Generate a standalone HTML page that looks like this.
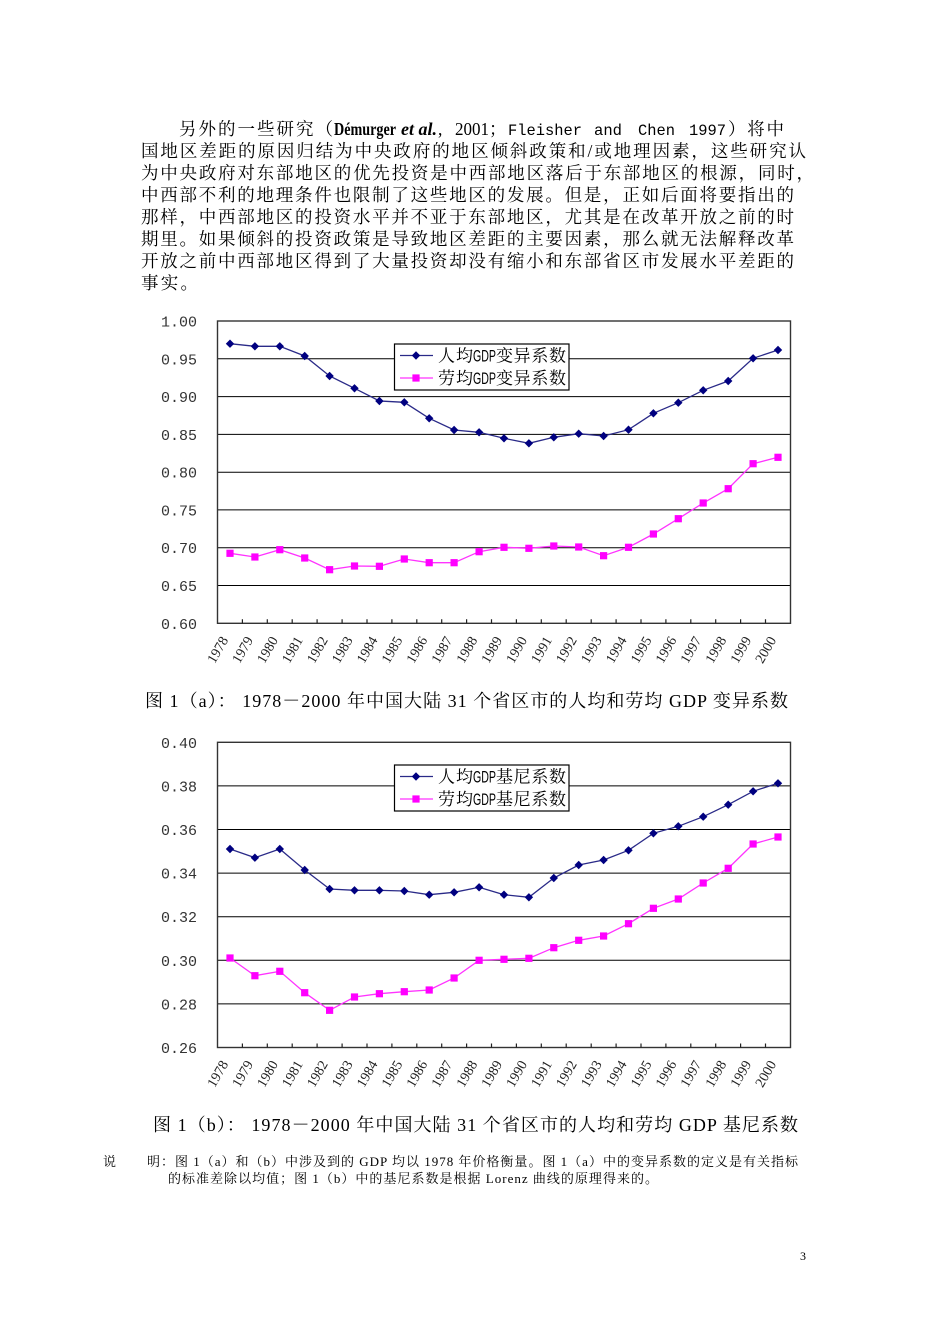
<!DOCTYPE html>
<html><head><meta charset="utf-8"><style>
html,body{margin:0;padding:0;background:#fff;}
svg{display:block;}
.cj{font-family:"Liberation Serif","Noto Serif CJK SC",serif;}
.mo{font-family:"Liberation Mono",monospace;}
.yl{font-family:"Liberation Mono",monospace;font-size:15px;fill:#333;}
.yr{font-family:"Liberation Serif",serif;font-size:14px;fill:#222;}
</style></head><body>
<svg width="950" height="1344" viewBox="0 0 950 1344" xmlns="http://www.w3.org/2000/svg">
<defs>
<path id="dm" d="M0,-4.2L4.2,0L0,4.2L-4.2,0Z" fill="#000080"/>
<rect id="sq" x="-3.6" y="-3.6" width="7.2" height="7.2" fill="#FF00FF"/>
</defs>
<rect width="950" height="1344" fill="#fff"/>

<!-- Paragraph -->
<g class="cj" font-size="17.5" fill="#000">
<text x="179" y="135" textLength="154" lengthAdjust="spacing">另外的一些研究（</text>
<text x="334" y="135" font-family="Liberation Serif" font-weight="bold" textLength="62" lengthAdjust="spacingAndGlyphs">Démurger</text>
<text x="401" y="135" font-family="Liberation Serif" font-weight="bold" font-style="italic" textLength="36" lengthAdjust="spacingAndGlyphs">et al.</text>
<text x="438" y="135" font-family="Liberation Serif">,</text>
<text x="455" y="135" font-family="Liberation Serif" textLength="34" lengthAdjust="spacingAndGlyphs">2001</text>
<text x="489" y="135">；</text>
<text x="508" y="135" class="mo" font-size="16" textLength="74" lengthAdjust="spacingAndGlyphs">Fleisher</text>
<text x="594" y="135" class="mo" font-size="16" textLength="28" lengthAdjust="spacingAndGlyphs">and</text>
<text x="638" y="135" class="mo" font-size="16" textLength="37" lengthAdjust="spacingAndGlyphs">Chen</text>
<text x="689" y="135" class="mo" font-size="16" textLength="37" lengthAdjust="spacingAndGlyphs">1997</text>
<text x="728" y="135" textLength="56" lengthAdjust="spacing">）将中</text>
<text x="141" y="157" textLength="665" lengthAdjust="spacing">国地区差距的原因归结为中央政府的地区倾斜政策和/或地理因素，这些研究认</text>
<text x="141" y="179" textLength="673" lengthAdjust="spacing">为中央政府对东部地区的优先投资是中西部地区落后于东部地区的根源，同时，</text>
<text x="141" y="201" textLength="653" lengthAdjust="spacing">中西部不利的地理条件也限制了这些地区的发展。但是，正如后面将要指出的</text>
<text x="141" y="223" textLength="653" lengthAdjust="spacing">那样，中西部地区的投资水平并不亚于东部地区，尤其是在改革开放之前的时</text>
<text x="141" y="245" textLength="653" lengthAdjust="spacing">期里。如果倾斜的投资政策是导致地区差距的主要因素，那么就无法解释改革</text>
<text x="141" y="267" textLength="653" lengthAdjust="spacing">开放之前中西部地区得到了大量投资却没有缩小和东部省区市发展水平差距的</text>
<text x="141" y="289" textLength="57" lengthAdjust="spacing">事实。</text>
</g>

<!-- ===== Chart 1 ===== -->
<g stroke="#000" stroke-width="1">
<line x1="217.5" y1="358.8" x2="790.5" y2="358.8"/>
<line x1="217.5" y1="396.6" x2="790.5" y2="396.6"/>
<line x1="217.5" y1="434.4" x2="790.5" y2="434.4"/>
<line x1="217.5" y1="472.2" x2="790.5" y2="472.2"/>
<line x1="217.5" y1="509.9" x2="790.5" y2="509.9"/>
<line x1="217.5" y1="547.7" x2="790.5" y2="547.7"/>
<line x1="217.5" y1="585.5" x2="790.5" y2="585.5"/>
</g>
<rect x="217.5" y="321" width="573" height="302.3" fill="none" stroke="#333" stroke-width="1.4"/>
<path d="M242.4 623.3v-4M267.3 623.3v-4M292.2 623.3v-4M317.1 623.3v-4M342.1 623.3v-4M367 623.3v-4M391.9 623.3v-4M416.8 623.3v-4M441.7 623.3v-4M466.6 623.3v-4M491.5 623.3v-4M516.4 623.3v-4M541.3 623.3v-4M566.2 623.3v-4M591.2 623.3v-4M616.1 623.3v-4M641 623.3v-4M665.9 623.3v-4M690.8 623.3v-4M715.7 623.3v-4M740.6 623.3v-4M765.5 623.3v-4" stroke="#222" stroke-width="1.2"/>
<g class="yl" text-anchor="end">
<text x="197" y="326.5">1.00</text>
<text x="197" y="364.3">0.95</text>
<text x="197" y="402.1">0.90</text>
<text x="197" y="439.9">0.85</text>
<text x="197" y="477.7">0.80</text>
<text x="197" y="515.4">0.75</text>
<text x="197" y="553.2">0.70</text>
<text x="197" y="591">0.65</text>
<text x="197" y="628.8">0.60</text>
</g>
<g class="yr" text-anchor="end">
<text transform="translate(228.6,640) rotate(-60)">1978</text>
<text transform="translate(253.5,640) rotate(-60)">1979</text>
<text transform="translate(278.4,640) rotate(-60)">1980</text>
<text transform="translate(303.3,640) rotate(-60)">1981</text>
<text transform="translate(328.2,640) rotate(-60)">1982</text>
<text transform="translate(353.1,640) rotate(-60)">1983</text>
<text transform="translate(378,640) rotate(-60)">1984</text>
<text transform="translate(402.9,640) rotate(-60)">1985</text>
<text transform="translate(427.8,640) rotate(-60)">1986</text>
<text transform="translate(452.7,640) rotate(-60)">1987</text>
<text transform="translate(477.7,640) rotate(-60)">1988</text>
<text transform="translate(502.6,640) rotate(-60)">1989</text>
<text transform="translate(527.5,640) rotate(-60)">1990</text>
<text transform="translate(552.4,640) rotate(-60)">1991</text>
<text transform="translate(577.3,640) rotate(-60)">1992</text>
<text transform="translate(602.2,640) rotate(-60)">1993</text>
<text transform="translate(627.1,640) rotate(-60)">1994</text>
<text transform="translate(652,640) rotate(-60)">1995</text>
<text transform="translate(676.9,640) rotate(-60)">1996</text>
<text transform="translate(701.8,640) rotate(-60)">1997</text>
<text transform="translate(726.8,640) rotate(-60)">1998</text>
<text transform="translate(751.7,640) rotate(-60)">1999</text>
<text transform="translate(776.6,640) rotate(-60)">2000</text>
</g>
<polyline fill="none" stroke="#2a2a88" stroke-width="1.3" points="230,343.7 254.9,346.3 279.8,346.3 304.7,356 329.6,376 354.5,388.3 379.4,401 404.3,402.3 429.2,418.3 454.1,430 479.1,432.3 504,438.3 528.9,443.3 553.8,437.3 578.7,433.7 603.6,436 628.5,429.7 653.4,413.3 678.3,402.7 703.2,390.3 728.2,381 753.1,358.3 778,350"/>
<polyline fill="none" stroke="#FF33FF" stroke-width="1.3" points="230,553.3 254.9,557 279.8,549.7 304.7,558 329.6,569.7 354.5,566 379.4,566.3 404.3,559 429.2,562.7 454.1,562.7 479.1,551.7 504,547.3 528.9,548.3 553.8,546 578.7,547 603.6,555.7 628.5,547.3 653.4,534 678.3,518.7 703.2,503 728.2,488.7 753.1,463.7 778,457.3"/>
<use href="#dm" x="230" y="343.7"/><use href="#dm" x="254.9" y="346.3"/><use href="#dm" x="279.8" y="346.3"/><use href="#dm" x="304.7" y="356"/><use href="#dm" x="329.6" y="376"/><use href="#dm" x="354.5" y="388.3"/><use href="#dm" x="379.4" y="401"/><use href="#dm" x="404.3" y="402.3"/><use href="#dm" x="429.2" y="418.3"/><use href="#dm" x="454.1" y="430"/><use href="#dm" x="479.1" y="432.3"/><use href="#dm" x="504" y="438.3"/><use href="#dm" x="528.9" y="443.3"/><use href="#dm" x="553.8" y="437.3"/><use href="#dm" x="578.7" y="433.7"/><use href="#dm" x="603.6" y="436"/><use href="#dm" x="628.5" y="429.7"/><use href="#dm" x="653.4" y="413.3"/><use href="#dm" x="678.3" y="402.7"/><use href="#dm" x="703.2" y="390.3"/><use href="#dm" x="728.2" y="381"/><use href="#dm" x="753.1" y="358.3"/><use href="#dm" x="778" y="350"/>
<use href="#sq" x="230" y="553.3"/><use href="#sq" x="254.9" y="557"/><use href="#sq" x="279.8" y="549.7"/><use href="#sq" x="304.7" y="558"/><use href="#sq" x="329.6" y="569.7"/><use href="#sq" x="354.5" y="566"/><use href="#sq" x="379.4" y="566.3"/><use href="#sq" x="404.3" y="559"/><use href="#sq" x="429.2" y="562.7"/><use href="#sq" x="454.1" y="562.7"/><use href="#sq" x="479.1" y="551.7"/><use href="#sq" x="504" y="547.3"/><use href="#sq" x="528.9" y="548.3"/><use href="#sq" x="553.8" y="546"/><use href="#sq" x="578.7" y="547"/><use href="#sq" x="603.6" y="555.7"/><use href="#sq" x="628.5" y="547.3"/><use href="#sq" x="653.4" y="534"/><use href="#sq" x="678.3" y="518.7"/><use href="#sq" x="703.2" y="503"/><use href="#sq" x="728.2" y="488.7"/><use href="#sq" x="753.1" y="463.7"/><use href="#sq" x="778" y="457.3"/>
<!-- legend 1 -->
<rect x="394.5" y="344" width="174.5" height="46" fill="#fff" stroke="#000" stroke-width="1.2"/>
<line x1="400" y1="355.5" x2="433" y2="355.5" stroke="#2a2a88" stroke-width="1.3"/>
<use href="#dm" x="416" y="355.5"/>
<line x1="400" y1="378" x2="433" y2="378" stroke="#FF33FF" stroke-width="1.3"/>
<use href="#sq" x="416" y="378"/>
<g class="cj" font-size="17" fill="#000">
<text x="438" y="361.5" textLength="35" lengthAdjust="spacing">人均</text>
<text x="473" y="361.5" font-family="Liberation Sans" font-size="17" textLength="23" lengthAdjust="spacingAndGlyphs">GDP</text>
<text x="496" y="361.5" textLength="70" lengthAdjust="spacing">变异系数</text>
<text x="438" y="384" textLength="35" lengthAdjust="spacing">劳均</text>
<text x="473" y="384" font-family="Liberation Sans" font-size="17" textLength="23" lengthAdjust="spacingAndGlyphs">GDP</text>
<text x="496" y="384" textLength="70" lengthAdjust="spacing">变异系数</text>
</g>

<!-- Caption 1 -->
<text class="cj" x="145" y="707" font-size="18" textLength="643" lengthAdjust="spacing">图 1（a）：  1978－2000 年中国大陆 31 个省区市的人均和劳均 GDP 变异系数</text>

<!-- ===== Chart 2 ===== -->
<g stroke="#000" stroke-width="1">
<line x1="217.5" y1="785.9" x2="790.5" y2="785.9"/>
<line x1="217.5" y1="829.5" x2="790.5" y2="829.5"/>
<line x1="217.5" y1="873.1" x2="790.5" y2="873.1"/>
<line x1="217.5" y1="916.7" x2="790.5" y2="916.7"/>
<line x1="217.5" y1="960.3" x2="790.5" y2="960.3"/>
<line x1="217.5" y1="1003.9" x2="790.5" y2="1003.9"/>
</g>
<rect x="217.5" y="742.3" width="573" height="305.2" fill="none" stroke="#333" stroke-width="1.4"/>
<path d="M242.4 1047.5v-4M267.3 1047.5v-4M292.2 1047.5v-4M317.1 1047.5v-4M342.1 1047.5v-4M367 1047.5v-4M391.9 1047.5v-4M416.8 1047.5v-4M441.7 1047.5v-4M466.6 1047.5v-4M491.5 1047.5v-4M516.4 1047.5v-4M541.3 1047.5v-4M566.2 1047.5v-4M591.2 1047.5v-4M616.1 1047.5v-4M641 1047.5v-4M665.9 1047.5v-4M690.8 1047.5v-4M715.7 1047.5v-4M740.6 1047.5v-4M765.5 1047.5v-4" stroke="#222" stroke-width="1.2"/>
<g class="yl" text-anchor="end">
<text x="197" y="747.8">0.40</text>
<text x="197" y="791.4">0.38</text>
<text x="197" y="835">0.36</text>
<text x="197" y="878.6">0.34</text>
<text x="197" y="922.2">0.32</text>
<text x="197" y="965.8">0.30</text>
<text x="197" y="1009.4">0.28</text>
<text x="197" y="1053">0.26</text>
</g>
<g class="yr" text-anchor="end">
<text transform="translate(228.6,1064) rotate(-60)">1978</text>
<text transform="translate(253.5,1064) rotate(-60)">1979</text>
<text transform="translate(278.4,1064) rotate(-60)">1980</text>
<text transform="translate(303.3,1064) rotate(-60)">1981</text>
<text transform="translate(328.2,1064) rotate(-60)">1982</text>
<text transform="translate(353.1,1064) rotate(-60)">1983</text>
<text transform="translate(378,1064) rotate(-60)">1984</text>
<text transform="translate(402.9,1064) rotate(-60)">1985</text>
<text transform="translate(427.8,1064) rotate(-60)">1986</text>
<text transform="translate(452.7,1064) rotate(-60)">1987</text>
<text transform="translate(477.7,1064) rotate(-60)">1988</text>
<text transform="translate(502.6,1064) rotate(-60)">1989</text>
<text transform="translate(527.5,1064) rotate(-60)">1990</text>
<text transform="translate(552.4,1064) rotate(-60)">1991</text>
<text transform="translate(577.3,1064) rotate(-60)">1992</text>
<text transform="translate(602.2,1064) rotate(-60)">1993</text>
<text transform="translate(627.1,1064) rotate(-60)">1994</text>
<text transform="translate(652,1064) rotate(-60)">1995</text>
<text transform="translate(676.9,1064) rotate(-60)">1996</text>
<text transform="translate(701.8,1064) rotate(-60)">1997</text>
<text transform="translate(726.8,1064) rotate(-60)">1998</text>
<text transform="translate(751.7,1064) rotate(-60)">1999</text>
<text transform="translate(776.6,1064) rotate(-60)">2000</text>
</g>
<polyline fill="none" stroke="#2a2a88" stroke-width="1.3" points="230,849 254.9,857.7 279.8,849 304.7,870 329.6,889 354.5,890.3 379.4,890.3 404.3,891 429.2,894.7 454.1,892.3 479.1,887.3 504,894.7 528.9,897.3 553.8,878 578.7,865 603.6,860 628.5,850.3 653.4,833.3 678.3,826.3 703.2,816.7 728.2,804.7 753.1,791.3 778,783.3"/>
<polyline fill="none" stroke="#FF33FF" stroke-width="1.3" points="230,958 254.9,975.7 279.8,971.3 304.7,992.7 329.6,1010.3 354.5,997 379.4,993.7 404.3,991.7 429.2,990 454.1,978 479.1,960.3 504,959.3 528.9,958.3 553.8,947.7 578.7,940.3 603.6,936 628.5,923.7 653.4,908.3 678.3,899 703.2,883 728.2,868.3 753.1,844 778,837"/>
<use href="#dm" x="230" y="849"/><use href="#dm" x="254.9" y="857.7"/><use href="#dm" x="279.8" y="849"/><use href="#dm" x="304.7" y="870"/><use href="#dm" x="329.6" y="889"/><use href="#dm" x="354.5" y="890.3"/><use href="#dm" x="379.4" y="890.3"/><use href="#dm" x="404.3" y="891"/><use href="#dm" x="429.2" y="894.7"/><use href="#dm" x="454.1" y="892.3"/><use href="#dm" x="479.1" y="887.3"/><use href="#dm" x="504" y="894.7"/><use href="#dm" x="528.9" y="897.3"/><use href="#dm" x="553.8" y="878"/><use href="#dm" x="578.7" y="865"/><use href="#dm" x="603.6" y="860"/><use href="#dm" x="628.5" y="850.3"/><use href="#dm" x="653.4" y="833.3"/><use href="#dm" x="678.3" y="826.3"/><use href="#dm" x="703.2" y="816.7"/><use href="#dm" x="728.2" y="804.7"/><use href="#dm" x="753.1" y="791.3"/><use href="#dm" x="778" y="783.3"/>
<use href="#sq" x="230" y="958"/><use href="#sq" x="254.9" y="975.7"/><use href="#sq" x="279.8" y="971.3"/><use href="#sq" x="304.7" y="992.7"/><use href="#sq" x="329.6" y="1010.3"/><use href="#sq" x="354.5" y="997"/><use href="#sq" x="379.4" y="993.7"/><use href="#sq" x="404.3" y="991.7"/><use href="#sq" x="429.2" y="990"/><use href="#sq" x="454.1" y="978"/><use href="#sq" x="479.1" y="960.3"/><use href="#sq" x="504" y="959.3"/><use href="#sq" x="528.9" y="958.3"/><use href="#sq" x="553.8" y="947.7"/><use href="#sq" x="578.7" y="940.3"/><use href="#sq" x="603.6" y="936"/><use href="#sq" x="628.5" y="923.7"/><use href="#sq" x="653.4" y="908.3"/><use href="#sq" x="678.3" y="899"/><use href="#sq" x="703.2" y="883"/><use href="#sq" x="728.2" y="868.3"/><use href="#sq" x="753.1" y="844"/><use href="#sq" x="778" y="837"/>
<!-- legend 2 -->
<rect x="394.5" y="765" width="174.5" height="46" fill="#fff" stroke="#000" stroke-width="1.2"/>
<line x1="400" y1="776.5" x2="433" y2="776.5" stroke="#2a2a88" stroke-width="1.3"/>
<use href="#dm" x="416" y="776.5"/>
<line x1="400" y1="799" x2="433" y2="799" stroke="#FF33FF" stroke-width="1.3"/>
<use href="#sq" x="416" y="799"/>
<g class="cj" font-size="17" fill="#000">
<text x="438" y="782.5" textLength="35" lengthAdjust="spacing">人均</text>
<text x="473" y="782.5" font-family="Liberation Sans" font-size="17" textLength="23" lengthAdjust="spacingAndGlyphs">GDP</text>
<text x="496" y="782.5" textLength="70" lengthAdjust="spacing">基尼系数</text>
<text x="438" y="805" textLength="35" lengthAdjust="spacing">劳均</text>
<text x="473" y="805" font-family="Liberation Sans" font-size="17" textLength="23" lengthAdjust="spacingAndGlyphs">GDP</text>
<text x="496" y="805" textLength="70" lengthAdjust="spacing">基尼系数</text>
</g>

<!-- Caption 2 -->
<text class="cj" x="153" y="1131" font-size="18" textLength="645" lengthAdjust="spacing">图 1（b）：  1978－2000 年中国大陆 31 个省区市的人均和劳均 GDP 基尼系数</text>

<!-- Footnote -->
<g class="cj" font-size="13" fill="#000">
<text x="103" y="1166">说</text>
<text x="147" y="1166" textLength="651" lengthAdjust="spacing">明：图 1（a）和（b）中涉及到的 GDP 均以 1978 年价格衡量。图 1（a）中的变异系数的定义是有关指标</text>
<text x="168" y="1183" textLength="490" lengthAdjust="spacing">的标准差除以均值；图 1（b）中的基尼系数是根据 Lorenz 曲线的原理得来的。</text>
</g>

<!-- Page number -->
<text x="800" y="1260" font-family="Liberation Serif" font-size="12" fill="#000">3</text>
</svg>
</body></html>
